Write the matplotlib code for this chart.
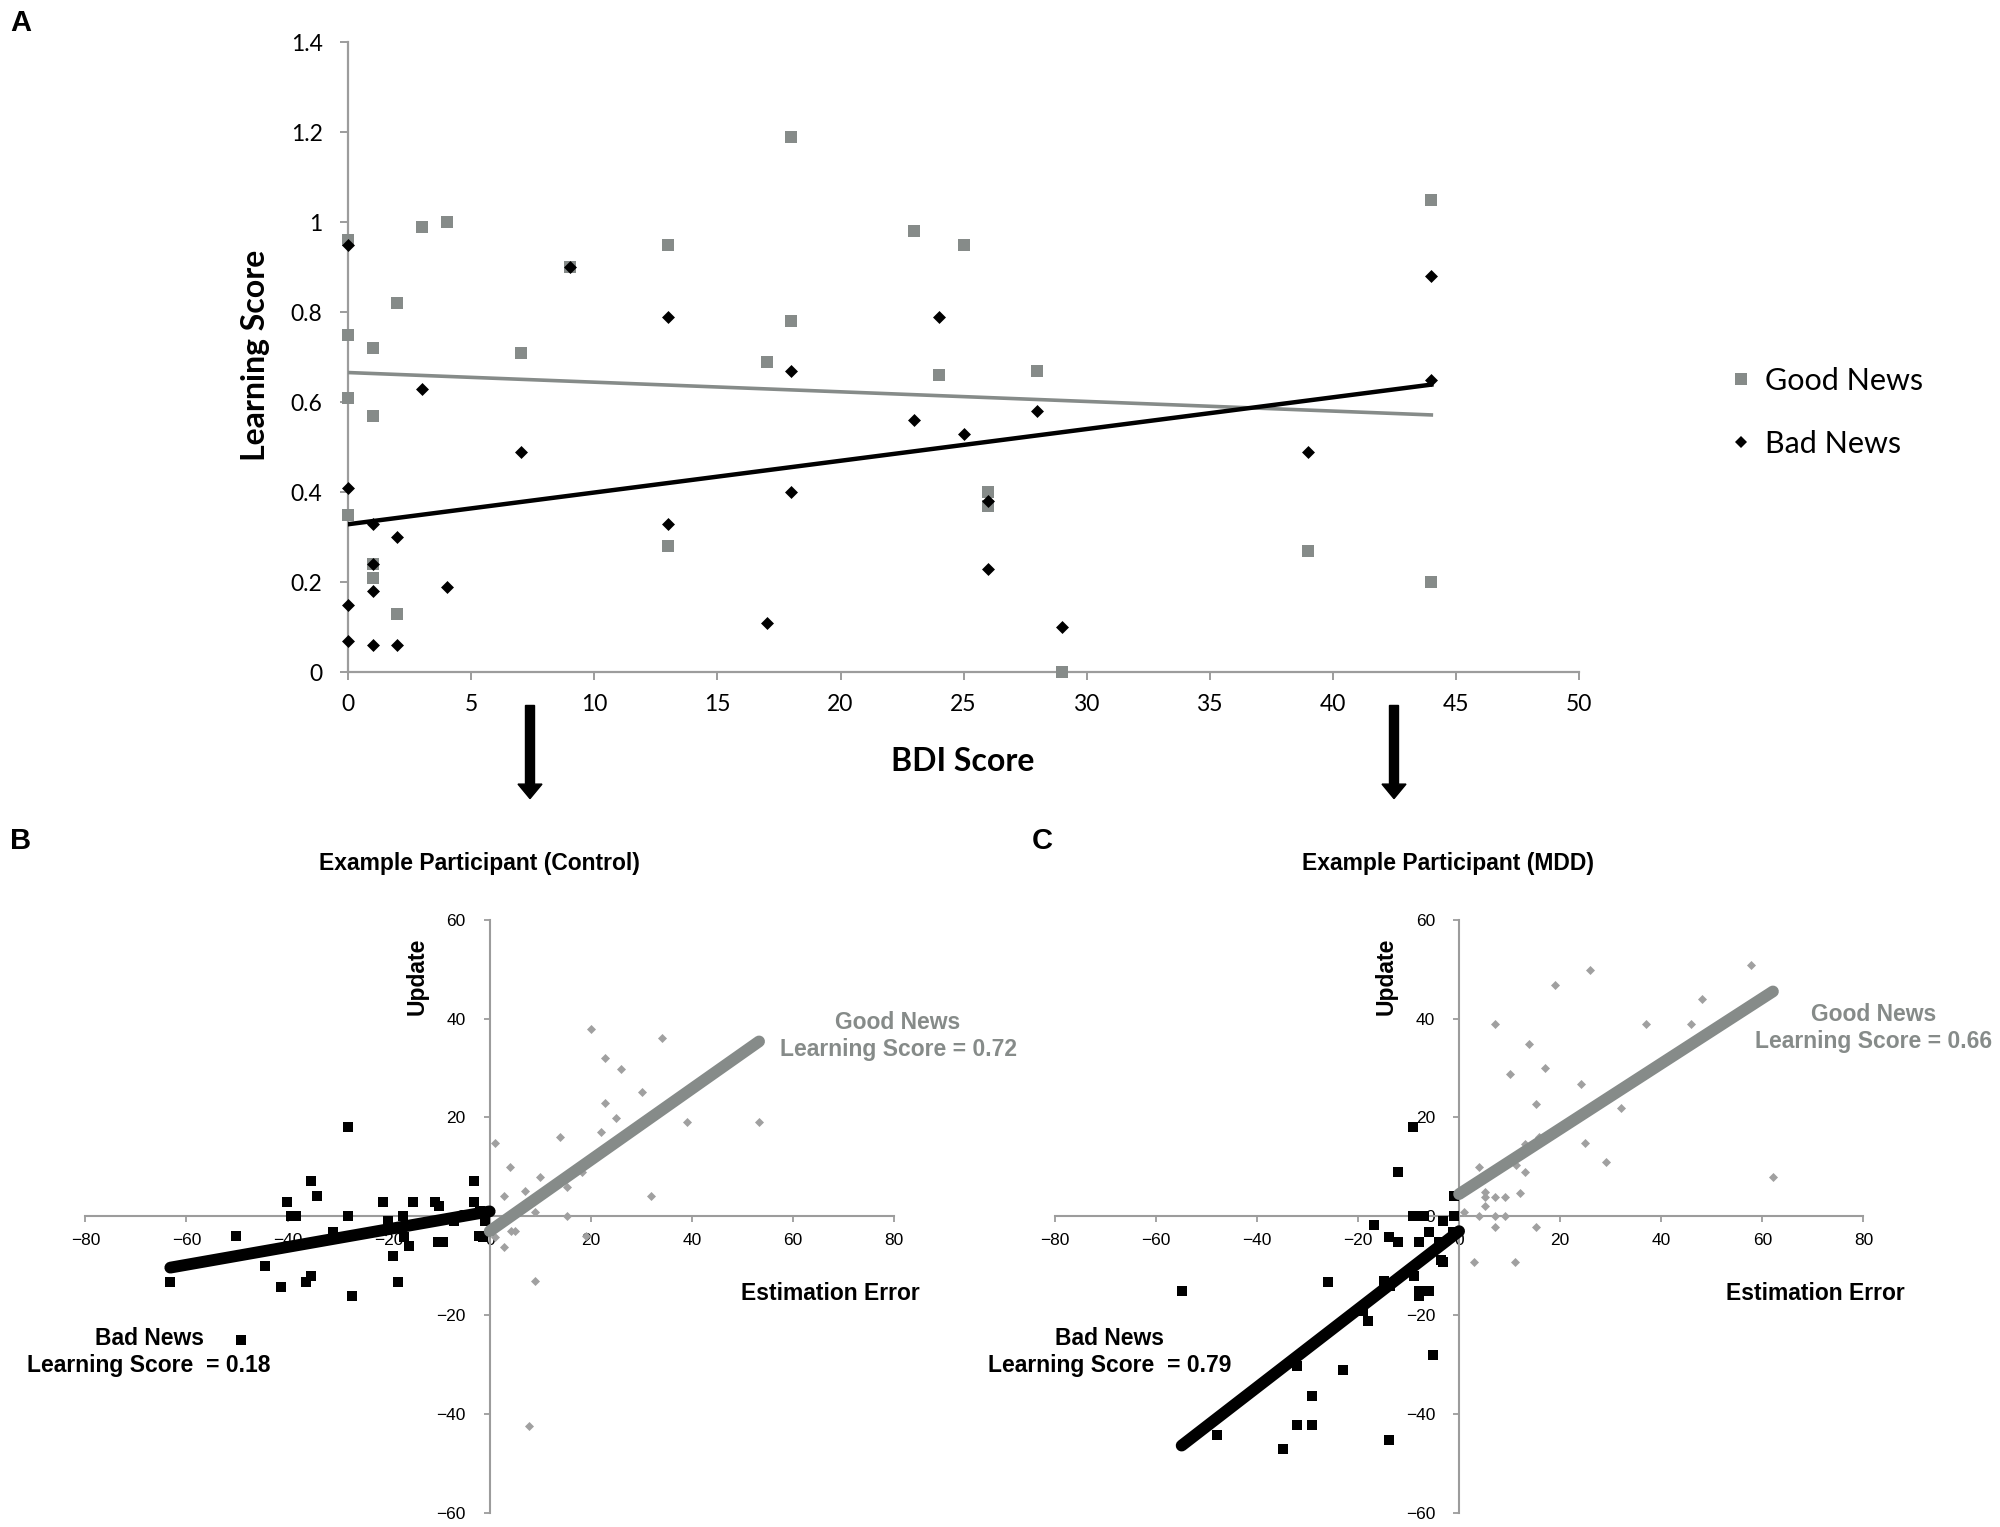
import matplotlib
matplotlib.use("Agg")
import matplotlib.pyplot as plt
from matplotlib.patches import FancyArrow
from matplotlib.lines import Line2D
from matplotlib.ticker import FuncFormatter
import numpy as np

plt.rcParams["font.family"] = ["Liberation Sans", "DejaVu Sans"]

# ---- Panel A data: BDI score vs learning score ----
bdi_good = [0, 0, 0, 0, 1, 1, 1, 1, 2, 2, 3, 4, 7, 9, 13, 13, 17, 18, 18,
            23, 24, 25, 26, 26, 28, 29, 39, 44, 44]
ls_good = [0.96, 0.75, 0.61, 0.35, 0.72, 0.57, 0.24, 0.21, 0.82, 0.13, 0.99,
           1.00, 0.71, 0.90, 0.95, 0.28, 0.69, 1.19, 0.78, 0.98, 0.66, 0.95,
           0.40, 0.37, 0.67, 0.00, 0.27, 1.05, 0.20]
bdi_bad = [0, 0, 0, 0, 1, 1, 1, 1, 2, 2, 3, 4, 7, 9, 13, 13, 17, 18, 18,
           23, 24, 25, 26, 26, 28, 29, 39, 44, 44]
ls_bad = [0.95, 0.41, 0.15, 0.07, 0.33, 0.24, 0.18, 0.06, 0.30, 0.06, 0.63,
          0.19, 0.49, 0.90, 0.79, 0.33, 0.11, 0.67, 0.40, 0.56, 0.79, 0.53,
          0.38, 0.23, 0.58, 0.10, 0.49, 0.88, 0.65]
# trend lines (intercept, slope)
trend_good_a = (0.666, -0.00214)
trend_bad_a = (0.329, 0.00705)

# ---- Panel B: example control participant ----
b_bad_x = [-63.2, -50.2, -49.3, -44.4, -41.3, -40.2, -39.3, -38.3, -36.3, -35.3,
           -35.3, -34.2, -31.1, -28.1, -28.1, -27.2, -21.2, -20.2, -19.2, -18.2,
           -17.2, -16.9, -16.0, -15.1, -10.9, -10.1, -10.3, -9.3, -7.1, -3.1,
           -3.1, -2.1, -1.3, -2.0, -1.0, -1.0]
b_bad_y = [-13.2, -4.0, -25.0, -10.0, -14.2, 2.9, 0.0, 0.0, -13.2, -12.1,
           7.1, 4.1, -3.1, 18.0, 0.0, -16.1, 2.9, -1.0, -8.1, -13.2,
           0.0, -4.2, -6.0, 2.9, 2.9, 2.1, -5.1, -5.1, -1.0, 7.1,
           2.9, -4.0, -4.2, 1.0, 0.0, -1.0]
b_good_x = [20.0, 34.0, 22.9, 26.0, 30.1, 22.9, 25.0, 39.1, 53.3, 22.1, 13.9,
            1.0, 4.0, 9.9, 18.2, 7.0, 2.8, 15.2, 32.0, 8.9, 15.2, 4.3, 5.0,
            1.0, 2.8, 19.1, 8.9, 7.8]
b_good_y = [37.8, 36.0, 32.0, 29.9, 25.1, 22.9, 19.9, 19.0, 19.0, 17.1, 16.1,
            14.9, 10.0, 8.0, 9.0, 5.1, 4.1, 5.9, 4.1, 0.9, 0.0, -3.0, -3.0,
            -4.2, -6.2, -4.0, -13.0, -42.5]
b_score_good, b_icpt_good = 0.72, -3.0
b_score_bad, b_icpt_bad = 0.18, 1.0

# ---- Panel C: example MDD participant ----
c_bad_x = [-54.9, -47.9, -34.9, -32.0, -29.1, -29.1, -32.0, -26.0, -22.9, -18.1,
           -19.0, -16.8, -14.8, -13.8, -13.7, -13.8, -12.0, -12.0, -9.2, -9.2,
           -8.2, -6.9, -8.9, -7.9, -7.9, -7.9, -5.9, -5.9, -5.1, -3.6, -3.1,
           -3.1, -4.0, -1.0, -1.0, -1.3]
c_bad_y = [-15.1, -44.2, -47.1, -42.2, -42.2, -36.3, -30.3, -13.2, -31.1, -21.2,
           -19.1, -1.8, -13.0, -4.2, -14.0, -45.2, 9.0, -5.1, 18.0, 0.0,
           0.0, 0.0, -12.0, -5.1, -15.1, -16.1, -15.1, -3.2, -28.1, -8.9, -9.3,
           -1.0, -5.2, 4.1, 0.0, -3.2]
c_good_x = [57.8, 25.9, 19.0, 48.0, 7.1, 37.0, 45.9, 13.8, 17.0, 10.0, 24.1,
            15.2, 32.0, 25.0, 15.8, 13.1, 29.0, 4.0, 11.2, 13.1, 62.1, 12.1,
            5.1, 5.1, 7.1, 9.0, 5.1, 1.0, 4.0, 7.1, 9.0, 7.1, 15.2, 3.0, 11.1]
c_good_y = [50.8, 49.8, 46.8, 43.9, 39.0, 39.0, 39.0, 34.8, 30.0, 28.8, 26.8,
            22.8, 22.0, 14.8, 16.0, 14.7, 10.9, 9.9, 10.4, 8.9, 7.9, 4.7,
            5.0, 3.9, 3.9, 3.9, 2.0, 0.9, 0.0, 0.0, 0.0, -2.1, -2.1, -9.2, -9.2]
c_score_good, c_icpt_good = 0.66, 4.5
c_score_bad, c_icpt_bad = 0.79, -3.0

GRAY = "#868b89"
AXIS_GRAY = "#9c9c9c"

fig = plt.figure(figsize=(20, 15.27), dpi=100)

# ================= Panel A =================
axA = fig.add_axes([0.1741, 0.5597, 0.6154, 0.4127])
axA.scatter(bdi_good, ls_good, marker="s", s=8.5 ** 2, color=GRAY, lw=0, zorder=3)
axA.scatter(bdi_bad, ls_bad, marker="D", s=6.6 ** 2, color="black", lw=0, zorder=4)
xs = np.array([0, max(bdi_good)])
axA.plot(xs, trend_good_a[0] + trend_good_a[1] * xs, color=GRAY, lw=2.6, zorder=2)
axA.plot(xs, trend_bad_a[0] + trend_bad_a[1] * xs, color="black", lw=3.2, zorder=2)
axA.set_xlim(0, 50)
axA.set_ylim(0, 1.4)
axA.set_xticks(np.arange(0, 51, 5))
axA.set_yticks(np.arange(0, 1.41, 0.2))
axA.yaxis.set_major_formatter(FuncFormatter(lambda v, p: f"{v:g}"))
for s in ["top", "right"]:
    axA.spines[s].set_visible(False)
for s in ["left", "bottom"]:
    axA.spines[s].set_color(AXIS_GRAY)
    axA.spines[s].set_linewidth(1.6)
axA.spines["left"].set_zorder(1)
axA.tick_params(direction="out", length=5.5, width=1.4, color=AXIS_GRAY,
                labelsize=16.5)
axA.tick_params(axis="x", pad=10)
axA.tick_params(axis="y", pad=13)
for lab in axA.get_xticklabels() + axA.get_yticklabels():
    lab.set_family("Lato")
for c in axA.collections:
    c.set_clip_on(False)

fig.text(0.1276, 0.767, "Learning Score", rotation=90, ha="center", va="center",
         fontsize=23, fontweight="bold", family="Lato")
fig.text(0.4815, 0.5013, "BDI Score", ha="center", va="center",
         fontsize=23, fontweight="bold", family="Lato")

handles = [
    Line2D([], [], marker="s", ls="none", color=GRAY, markersize=8.5, markeredgewidth=0),
    Line2D([], [], marker="D", ls="none", color="black", markersize=6.6, markeredgewidth=0),
]
fig.legend(handles, ["Good News", "Bad News"], loc="center left",
           bbox_to_anchor=(0.852, 0.730), frameon=False, handlelength=0.6,
           handletextpad=0.5, labelspacing=1.15,
           prop={"family": "Lato", "size": 22})


# ================= Panels B and C =================
def scatter_panel(rect, bad_x, bad_y, good_x, good_y,
                  score_good, icpt_good, score_bad, icpt_bad):
    ax = fig.add_axes(rect)
    ax.scatter(good_x, good_y, marker="D", s=4.6 ** 2, color="#a0a0a0", lw=0, zorder=3)
    ax.scatter(bad_x, bad_y, marker="s", s=7.4 ** 2, color="black", lw=0, zorder=4)
    gx = np.array([0.0, max(good_x)])
    bx = np.array([min(bad_x), 0.0])
    ax.plot(gx, icpt_good + score_good * gx, color=GRAY, lw=8.5,
            solid_capstyle="round", zorder=5)
    ax.plot(bx, icpt_bad + score_bad * bx, color="black", lw=8.5,
            solid_capstyle="round", zorder=5)
    ax.set_xlim(-80, 80)
    ax.set_ylim(-60, 60)
    ax.set_xticks(np.arange(-80, 81, 20))
    ax.set_yticks(np.arange(-60, 61, 20))
    ax.spines["left"].set_position(("data", 0))
    ax.spines["bottom"].set_position(("data", 0))
    for s in ["top", "right"]:
        ax.spines[s].set_visible(False)
    for s in ["left", "bottom"]:
        ax.spines[s].set_color(AXIS_GRAY)
        ax.spines[s].set_linewidth(1.5)
    ax.tick_params(direction="out", length=4.3, width=1.3, color=AXIS_GRAY,
                   labelsize=12.5)
    ax.tick_params(axis="x", pad=8)
    ax.tick_params(axis="y", pad=13)
    ax.patch.set_alpha(0)
    for c in ax.collections + ax.lines:
        c.set_clip_on(False)
    return ax


axB = scatter_panel([0.0427, 0.0092, 0.4043, 0.3885], b_bad_x, b_bad_y,
                    b_good_x, b_good_y, b_score_good, b_icpt_good,
                    b_score_bad, b_icpt_bad)
axC = scatter_panel([0.5274, 0.0092, 0.4043, 0.3885], c_bad_x, c_bad_y,
                    c_good_x, c_good_y, c_score_good, c_icpt_good,
                    c_score_bad, c_icpt_bad)

bold = dict(fontsize=16.5, fontweight="bold", ha="center", va="center")
fig.text(0.2398, 0.4344, "Example Participant (Control)", **bold)
fig.text(0.7239, 0.4344, "Example Participant (MDD)", **bold)
fig.text(0.2085, 0.3609, "Update", rotation=90, **bold)
fig.text(0.6932, 0.3609, "Update", rotation=90, **bold)
fig.text(0.4152, 0.1529, "Estimation Error", **bold)
fig.text(0.9075, 0.1529, "Estimation Error", **bold)
fig.text(0.449, 0.3216, f"Good News\nLearning Score = {b_score_good:.2f}",
         color=GRAY, linespacing=1.2, **bold)
fig.text(0.9369, 0.3266, f"Good News\nLearning Score = {c_score_good:.2f}",
         color=GRAY, linespacing=1.2, **bold)
fig.text(0.0746, 0.1145, f"Bad News\nLearning Score  = {b_score_bad:.2f}",
         linespacing=1.2, **bold)
fig.text(0.5548, 0.1145, f"Bad News\nLearning Score  = {c_score_bad:.2f}",
         linespacing=1.2, **bold)

# panel letters
fig.text(0.005, 0.985, "A", fontsize=21, fontweight="bold", va="center")
fig.text(0.005, 0.449, "B", fontsize=21, fontweight="bold", va="center")
fig.text(0.516, 0.449, "C", fontsize=21, fontweight="bold", va="center")

# arrows linking panel A to the example participants
for ax_x in [0.265, 0.697]:
    fig.add_artist(FancyArrow(ax_x, 0.538, 0, -0.061, width=0.0045,
                              head_width=0.012, head_length=0.0095,
                              length_includes_head=True, color="black",
                              transform=fig.transFigure))

fig.savefig("out.png", dpi=100)
